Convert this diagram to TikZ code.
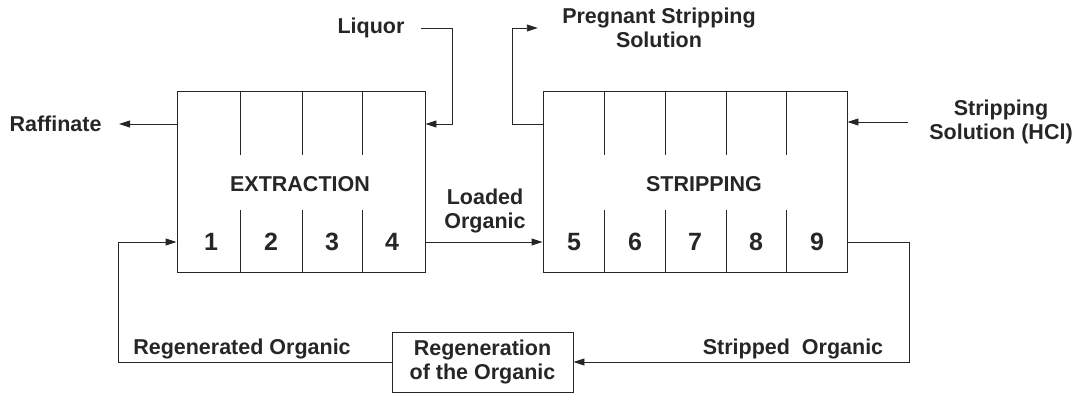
\documentclass[tikz,border=0pt]{standalone}
\usepackage{fontspec}
\setmainfont{Liberation Sans}
\usetikzlibrary{arrows.meta}
\usetikzlibrary{calc}
\tikzset{
  stage/.style= {draw, minimum height=181, inner sep=0},
  txt/.style= {font=\bfseries\fontsize{21.5}{24.5}\selectfont, align=center, inner sep=2},
  num/.style= {font=\bfseries\fontsize{25}{28}\selectfont, inner sep=2},
  flow/.style= {-{Triangle[length=11pt, width=7pt]}},
}

\begin{document}
\begin{tikzpicture}[x=1pt, y=-1pt, line width=0.9pt, black!85]
  \useasboundingbox (0,0) rectangle (1076,395);

  % the two banks of stages
  \node [stage, minimum width=248] (ext) at (301,181.5) {};
  \node [stage, minimum width=304] (str) at (695,181.5) {};
  \foreach \x in {240,302,362,604,665,726,786} {
    \draw (ext.north -| \x,0) -- ++(0,64) (ext.south -| \x,0) -- ++(0,-62);
  }
  \node [txt] (extname) at (300,184) {EXTRACTION};
  \node [txt] (strname) at (704,184) {STRIPPING};
  \foreach \n/\x in {1/211,2/271,3/332,4/392,5/574,6/635,7/695,8/756,9/817} {
    \node [num] (n\n) at (\x,242) {\n};
  }

  \node [draw, txt, minimum width=181, minimum height=60] (regen) at (482.5,362)
    {Regeneration\\of the Organic};

  % stream labels
  \node [txt, anchor=east] (raf) at (104,124) {Raffinate};
  \node [txt] (liq) at (371,28) {Liquor};
  \node [txt] (psol) at (659,28) {Pregnant Stripping\\Solution};
  \node [txt] (hcl) at (1001,122) {Stripping\\Solution (HCl)};
  \node [txt] (load) at (485,211) {Loaded\\Organic};
  \node [txt] (strip) at (793,349) {Stripped\ \ Organic};
  \node [txt] (rego) at (242,349) {Regenerated Organic};

  % streams
  \draw [flow] (ext.west |- raf) -- ([xshift=15pt]raf.east);
  \draw [flow] ([xshift=14pt]liq.east) -- ++(32,0) |- (ext.east |- raf);
  \draw [flow] (str.west |- raf) -- ++(-30,0) |- ([xshift=-22pt]psol.west);
  \draw [flow] ([xshift=-19pt]hcl.west) -- (str.east |- hcl.west);
  \draw [flow] (ext.east |- n4) -- (str.west |- n5);
  \draw [flow] (str.east |- n9) -- ++(62,0) |- (regen.east);
  \draw [flow] (regen.west) -- ++(-273,0) |- (ext.west |- n1);
\end{tikzpicture}
\end{document}
